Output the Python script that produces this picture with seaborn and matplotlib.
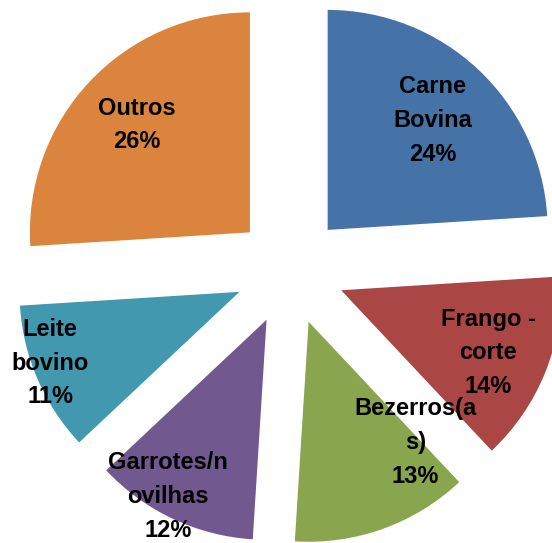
"""Exploded pie chart: production value shares"""
import numpy as np
import matplotlib
matplotlib.use("Agg")
import matplotlib.pyplot as plt
import seaborn as sns

# data
categories = ["Carne\nBovina", "Frango -\ncorte", "Bezerros(a\ns)",
              "Garrotes/n\novilhas", "Leite\nbovino", "Outros"]
shares = [24, 14, 13, 12, 11, 26]
colors = ["#4572A7", "#AA4643", "#89A54E", "#71588F", "#4198AF", "#DB843D"]

# label placement (polar, from pie centre): radius, angle in degrees
label_r = [0.94, 0.976, 0.97, 1.17, 1.17, 0.958]
label_ang = [46.4, -22.7, -54.0, -118.3, -158.8, 136.5]

sns.set_theme(style="white")
plt.rcParams["font.family"] = ["Liberation Sans", "DejaVu Sans"]

fig = plt.figure(figsize=(5.52, 5.43), dpi=100)
ax = fig.add_axes([0, 0, 1, 1])

wedges, _ = ax.pie(shares, colors=colors, startangle=90, counterclock=False,
                   explode=[0.25] * len(shares), radius=1.0,
                   wedgeprops=dict(linewidth=0))

for lab, val, r, a in zip(categories, shares, label_r, label_ang):
    t = np.deg2rad(a)
    ax.text(r * np.cos(t), r * np.sin(t), f"{lab}\n{val}%",
            ha="center", va="center", fontsize=17, fontweight="bold",
            color="black", linespacing=1.6)

ax.set_xlim(-290 / 220, (552 - 290) / 220)
ax.set_ylim(-(543 - 270) / 220, 270 / 220)
ax.set_aspect("equal")
ax.axis("off")

fig.savefig("out.png", dpi=100)
plt.close(fig)
